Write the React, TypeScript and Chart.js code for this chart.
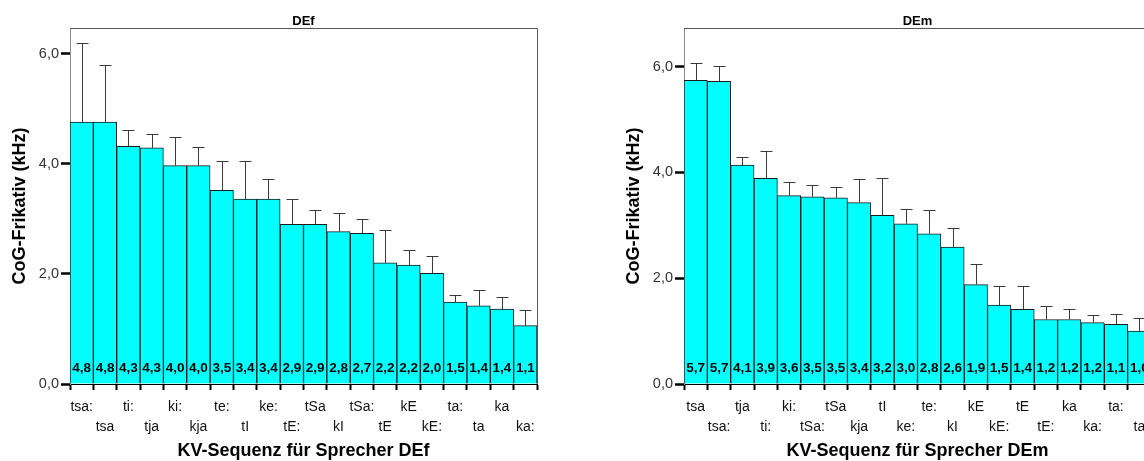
import { useEffect, useRef } from "react";
import { Chart, registerables } from "chart.js";

Chart.register(...registerables);

// Speaker DEf: CV sequences, mean CoG of the fricative (kHz) and error (kHz)
const defCategories = [
  "tsa:", "tsa", "ti:", "tja", "ki:", "kja", "te:", "tI", "ke:", "tE:",
  "tSa", "kI", "tSa:", "tE", "kE", "kE:", "ta:", "ta", "ka", "ka:",
];
const defMeans = [
  4.76, 4.76, 4.32, 4.29, 3.97, 3.97, 3.52, 3.36, 3.36, 2.9,
  2.9, 2.77, 2.74, 2.2, 2.16, 2.01, 1.49, 1.42, 1.36, 1.06,
];
const defErrors = [
  1.44, 1.03, 0.29, 0.26, 0.52, 0.34, 0.54, 0.7, 0.36, 0.47,
  0.26, 0.33, 0.25, 0.59, 0.27, 0.32, 0.12, 0.28, 0.23, 0.29,
];

// Speaker DEm
const demCategories = [
  "tsa", "tsa:", "tja", "ti:", "ki:", "tSa:", "tSa", "kja", "tI", "ke:",
  "te:", "kI", "kE", "kE:", "tE", "tE:", "ka", "ka:", "ta:", "ta",
];
const demMeans = [
  5.74, 5.72, 4.14, 3.89, 3.56, 3.54, 3.52, 3.43, 3.19, 3.03,
  2.84, 2.59, 1.88, 1.49, 1.41, 1.22, 1.22, 1.16, 1.13, 1.0,
];
const demErrors = [
  0.33, 0.3, 0.16, 0.52, 0.26, 0.22, 0.21, 0.45, 0.71, 0.28,
  0.44, 0.35, 0.38, 0.37, 0.45, 0.25, 0.2, 0.14, 0.2, 0.25,
];

const yTickValues = [0, 2, 4, 6];
const defYMax = 6.47;
const demYMax = 6.73;

const FONT = "'Liberation Sans', Arial, Helvetica, sans-serif";
const fmt = (v: number) => v.toFixed(1).replace(".", ",");

// Error whiskers, value labels inside the bars, plot frame and panel title
const panelDecor = {
  id: "panelDecor",
  afterDatasetsDraw(chart: any, _args: any, opts: any) {
    const { ctx, chartArea } = chart;
    const yScale = chart.scales.y;
    const meta = chart.getDatasetMeta(0);
    const values: number[] = chart.data.datasets[0].data;
    const errors: number[] = opts.errors || [];
    const zero = yScale.getPixelForValue(0);
    ctx.save();
    meta.data.forEach((bar: any, i: number) => {
      const v = values[i];
      const x = Math.round(bar.x) + 0.5;
      const top = Math.round(yScale.getPixelForValue(v + errors[i])) + 0.5;
      const base = bar.y;
      ctx.strokeStyle = "#3a3a3a";
      ctx.lineWidth = 1;
      ctx.beginPath();
      ctx.moveTo(x, base);
      ctx.lineTo(x, top);
      ctx.moveTo(x - 6, top);
      ctx.lineTo(x + 6, top);
      ctx.stroke();

      ctx.fillStyle = "#000";
      ctx.font = `bold 13.5px ${FONT}`;
      ctx.textAlign = "center";
      ctx.textBaseline = "middle";
      ctx.fillText(fmt(v), bar.x, zero - 16);
    });

    // frame: top and right edges of the plot area
    ctx.strokeStyle = "#555";
    ctx.lineWidth = 1;
    ctx.beginPath();
    ctx.moveTo(chartArea.left, Math.round(chartArea.top) + 0.5);
    ctx.lineTo(Math.round(chartArea.right) + 0.5, Math.round(chartArea.top) + 0.5);
    ctx.lineTo(Math.round(chartArea.right) + 0.5, chartArea.bottom);
    ctx.stroke();

    ctx.fillStyle = "#000";
    ctx.font = `bold 13px ${FONT}`;
    ctx.textAlign = "center";
    ctx.textBaseline = "middle";
    ctx.fillText(opts.title, (chartArea.left + chartArea.right) / 2, 21);
    ctx.restore();
  },
};

function makeConfig(
  categories: string[],
  means: number[],
  errors: number[],
  yMax: number,
  title: string,
  padLeft: number,
  padRight: number,
  yWidth: number
): any {
  return {
    type: "bar",
    data: {
      labels: categories,
      datasets: [
        {
          data: means,
          backgroundColor: "#00FFFF",
          borderColor: "#1a1a1a",
          borderWidth: 1,
          barPercentage: 1,
          categoryPercentage: 1,
        },
      ],
    },
    options: {
      responsive: false,
      animation: false,
      devicePixelRatio: 1,
      layout: { padding: { left: padLeft, right: padRight, top: 28, bottom: 0 } },
      plugins: {
        legend: { display: false },
        tooltip: { enabled: false },
        title: { display: false },
        panelDecor: { errors, title },
      },
      scales: {
        x: {
          grid: {
            drawOnChartArea: false,
            drawTicks: true,
            tickLength: 6,
            tickWidth: 2,
            tickColor: "#000",
          },
          border: { color: "#000", width: 1 },
          ticks: {
            autoSkip: false,
            maxRotation: 0,
            minRotation: 0,
            padding: 7,
            color: "#111",
            font: { family: FONT, size: 14, lineHeight: "20px" },
            callback: (_v: any, i: number) =>
              i % 2 === 0 ? [categories[i], ""] : ["", categories[i]],
          },
          title: {
            display: true,
            text: `KV-Sequenz für Sprecher ${title}`,
            color: "#000",
            padding: 0,
            font: { family: FONT, size: 18, weight: "bold", lineHeight: "20px" },
          },
          afterFit: (s: any) => {
            s.height = 77;
          },
        },
        y: {
          min: 0,
          max: yMax,
          afterBuildTicks: (s: any) => {
            s.ticks = yTickValues.map((value) => ({ value }));
          },
          grid: {
            drawOnChartArea: false,
            drawTicks: true,
            tickLength: 9,
            tickWidth: 2.5,
            tickColor: "#000",
          },
          border: { color: "#8a8a8a", width: 1 },
          ticks: {
            padding: 2,
            color: "#333",
            font: { family: FONT, size: 14.5 },
            callback: (v: any) => fmt(Number(v)),
          },
          title: {
            display: true,
            text: "CoG-Frikativ (kHz)",
            color: "#000",
            padding: 0,
            font: { family: FONT, size: 18, weight: "bold", lineHeight: "20px" },
          },
          afterFit: (s: any) => {
            s.width = yWidth;
          },
        },
      },
    },
    plugins: [panelDecor],
  };
}

function Panel(props: {
  left: number;
  width: number;
  categories: string[];
  means: number[];
  errors: number[];
  yMax: number;
  title: string;
  padLeft: number;
  padRight: number;
  yWidth: number;
}) {
  const ref = useRef<HTMLCanvasElement | null>(null);
  useEffect(() => {
    if (!ref.current) return;
    const chart = new Chart(
      ref.current,
      makeConfig(
        props.categories,
        props.means,
        props.errors,
        props.yMax,
        props.title,
        props.padLeft,
        props.padRight,
        props.yWidth
      )
    );
    return () => chart.destroy();
  }, []);
  return (
    <canvas
      ref={ref}
      width={props.width}
      height={461}
      style={{
        position: "absolute",
        left: props.left,
        top: 0,
        width: props.width,
        height: 461,
      }}
    />
  );
}

export default function App() {
  return (
    <div
      style={{
        position: "fixed",
        left: 0,
        top: 0,
        width: 1144,
        height: 461,
        overflow: "hidden",
        background: "#fff",
      }}
    >
      <Panel
        left={0}
        width={560}
        categories={defCategories}
        means={defMeans}
        errors={defErrors}
        yMax={defYMax}
        title="DEf"
        padLeft={10}
        padRight={23}
        yWidth={60}
      />
      <Panel
        left={610}
        width={551}
        categories={demCategories}
        means={demMeans}
        errors={demErrors}
        yMax={demYMax}
        title="DEm"
        padLeft={14}
        padRight={10}
        yWidth={60}
      />
    </div>
  );
}
